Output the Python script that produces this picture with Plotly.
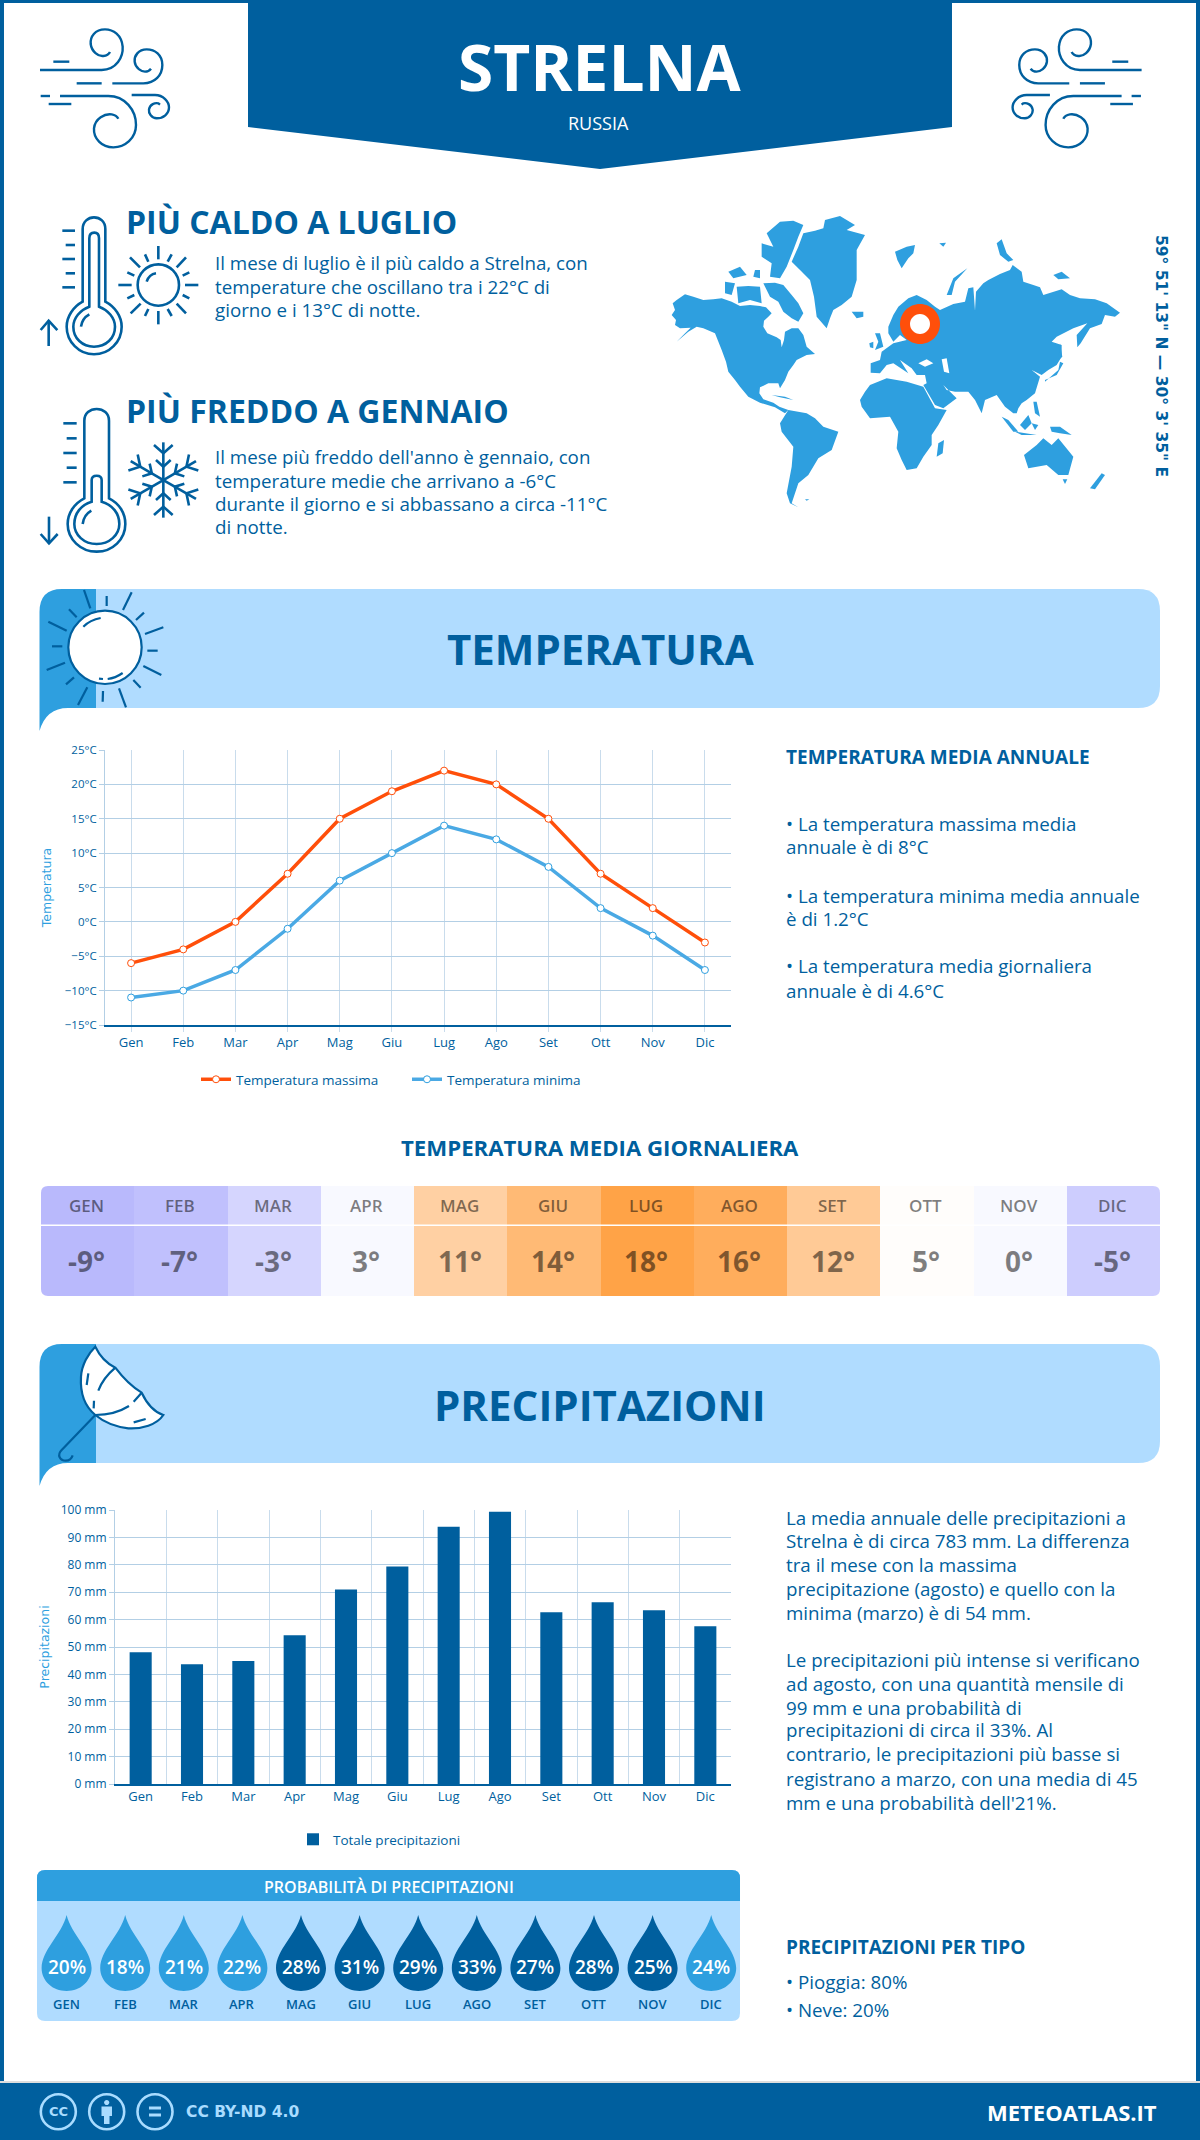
import re
import numpy as np
import plotly.graph_objects as go

W, H = 1200, 2140
DARK, MID, LIGHT = "#005f9e", "#2e9fdf", "#b0dcff"
ORANGE, GRID, GRIDV = "#ff4f0a", "#b3cfe5", "#c9dcec"
FONT = "Open Sans"

months = ["Gen", "Feb", "Mar", "Apr", "Mag", "Giu", "Lug", "Ago", "Set", "Ott", "Nov", "Dic"]
months_upper = ["GEN", "FEB", "MAR", "APR", "MAG", "GIU", "LUG", "AGO", "SET", "OTT", "NOV", "DIC"]
temp_max = [-6, -4, 0, 7, 15, 19, 22, 20, 15, 7, 2, -3]
temp_min = [-11, -10, -7, -1, 6, 10, 14, 12, 8, 2, -2, -7]
temp_mean = [-9, -7, -3, 3, 11, 14, 18, 16, 12, 5, 0, -5]
mean_colors = ["#b9b9fc", "#c0c0fd", "#d5d5fe", "#f8f9ff", "#ffd0a3", "#ffba75",
               "#ffa347", "#ffad5c", "#ffca96", "#fffdfb", "#f8f9ff", "#cdcdfe"]
precip = [48.1, 43.7, 44.9, 54.3, 71.0, 79.4, 93.9, 99.4, 62.7, 66.3, 63.4, 57.6]
rain_prob = [20, 18, 21, 22, 28, 31, 29, 33, 27, 28, 25, 24]

hot_lines = ["Il mese di luglio è il più caldo a Strelna, con",
             "temperature che oscillano tra i 22°C di",
             "giorno e i 13°C di notte."]
cold_lines = ["Il mese più freddo dell'anno è gennaio, con",
              "temperature medie che arrivano a -6°C",
              "durante il giorno e si abbassano a circa -11°C",
              "di notte."]
annual_lines = ["• La temperatura massima media", "annuale è di 8°C",
                "• La temperatura minima media annuale", "è di 1.2°C",
                "• La temperatura media giornaliera", "annuale è di 4.6°C"]
precip_lines = ["La media annuale delle precipitazioni a",
                "Strelna è di circa 783 mm. La differenza",
                "tra il mese con la massima",
                "precipitazione (agosto) e quello con la",
                "minima (marzo) è di 54 mm.",
                "Le precipitazioni più intense si verificano",
                "ad agosto, con una quantità mensile di",
                "99 mm e una probabilità di",
                "precipitazioni di circa il 33%. Al",
                "contrario, le precipitazioni più basse si",
                "registrano a marzo, con una media di 45",
                "mm e una probabilità dell'21%."]

shapes, notes = [], []
BODY = 18.75


def fx(x):
    return x / W


def fy(y):
    return 1 - y / H


def to_paper(path):
    return re.sub(r"(-?\d+\.?\d*),(-?\d+\.?\d*)",
                  lambda m: f"{fx(float(m[1])):.5f},{fy(float(m[2])):.5f}", path)


def add_path(path, fill=None, line=None, width=0):
    shapes.append(dict(type="path", xref="paper", yref="paper", path=to_paper(path),
                       fillcolor=fill or "rgba(0,0,0,0)",
                       line=dict(color=line or "rgba(0,0,0,0)", width=width), layer="above"))


def xform(path, ox, oy, s=1 / 3, mirror=None):
    def rep(m):
        x, y = ox + float(m[1]) * s, oy + float(m[2]) * s
        if mirror is not None:
            x = mirror - x
        return f"{x:.2f},{y:.2f}"
    return re.sub(r"(-?\d+\.?\d*),(-?\d+\.?\d*)", rep, path)


def rect(x0, y0, x1, y1, fill):
    add_path(f"M{x0},{y0} L{x1},{y0} L{x1},{y1} L{x0},{y1} Z", fill=fill)


def rrect(x0, y0, x1, y1, r, fill):
    add_path(f"M{x0+r},{y0} L{x1-r},{y0} Q{x1},{y0} {x1},{y0+r} L{x1},{y1-r} Q{x1},{y1} {x1-r},{y1} "
             f"L{x0+r},{y1} Q{x0},{y1} {x0},{y1-r} L{x0},{y0+r} Q{x0},{y0} {x0+r},{y0} Z", fill=fill)


def circle_path(cx, cy, r):
    k = 0.5523 * r
    return (f"M{cx+r},{cy} C{cx+r},{cy+k} {cx+k},{cy+r} {cx},{cy+r} C{cx-k},{cy+r} {cx-r},{cy+k} {cx-r},{cy} "
            f"C{cx-r},{cy-k} {cx-k},{cy-r} {cx},{cy-r} C{cx+k},{cy-r} {cx+r},{cy-k} {cx+r},{cy} Z")


def text(x, y, s, size, color=DARK, weight=400, anchor="left", family=FONT, angle=0):
    notes.append(dict(xref="paper", yref="paper", x=fx(x), y=fy(y), text=s, showarrow=False,
                      xanchor=anchor, yanchor="middle", textangle=angle, borderpad=0,
                      font=dict(family=family, size=size, color=color, weight=weight)))


# ---------- page frame and header
rect(0, 0, 4, H, DARK)
rect(W - 4, 0, W, H, DARK)
rect(0, 0, W, 3, DARK)
add_path("M248,0 L952,0 L952,127 L600,169 L248,127 Z", fill=DARK)
rect(0, 2081, W, 2083, "#dddddd")
rect(0, 2083, W, H, DARK)
text(600, 66, "STRELNA", 64, "#ffffff", 700, "center")
text(598, 123, "RUSSIA", 18, "#ffffff", 400, "center")

# ---------- wind icons
wind = ["M30,150 L215,150 C260,150 280,110 278,80 C275,45 250,28 225,28 C195,28 180,50 182,72 C185,95 205,110 220,108 C230,107 238,100 240,96",
        "M70,125 L118,125", "M140,190 L215,190",
        "M247,190 L340,190 C375,190 397,165 397,135 C397,105 375,88 350,88 C325,88 312,108 314,125 C316,145 335,155 345,155 C352,155 360,150 363,146",
        "M32,228 L60,228",
        "M90,228 L235,228 C285,228 318,270 318,315 C318,355 285,382 250,382 C215,382 190,355 192,325 C195,295 225,280 245,283 C255,285 262,290 265,296",
        "M56,252 L124,252",
        "M305,225 L375,225 C400,225 417,245 417,262 C417,282 400,295 380,295 C365,295 355,280 357,268 C360,252 375,248 385,250 L390,254"]
for p in wind:
    add_path(xform(p, 30, 20), line=DARK, width=2.4)
    add_path(xform(p, 30, 20, mirror=1181.6), line=DARK, width=2.4)

# ---------- thermometer / sun
therm1 = ["M158,290 L158,72 C158,50 175,37 192,37 C210,37 226,50 226,72 L226,290 C255,305 275,335 275,365 C275,410 238,448 192,448 C147,448 110,410 110,365 C110,335 130,305 158,290 Z",
          "M178,305 L178,100 C178,88 185,83 193,83 C200,83 207,88 207,100 L207,305 C235,315 255,340 255,365 C255,400 228,425 192,425 C157,425 130,400 130,365 C130,340 150,315 178,305 Z",
          "M153,365 C155,350 165,335 178,328",
          "M97,77 L135,77", "M107,120 L135,120", "M97,162 L135,162", "M107,205 L135,205", "M97,247 L135,247",
          "M56,423 L56,347", "M32,375 L56,347 L82,375",
          circle_path(385, 240, 62), "M350,230 C355,215 365,207 378,205",
          "M385,123 L385,163", "M385,318 L385,358", "M265,240 L305,240", "M465,240 L505,240",
          "M300,157 L330,187", "M468,157 L440,187", "M302,325 L332,296", "M468,325 L440,296",
          "M345,148 L355,170", "M425,148 L413,170", "M292,202 L313,212", "M478,202 L458,212",
          "M292,280 L313,270", "M478,280 L458,270", "M345,333 L355,312", "M425,333 L413,312"]
for p in therm1:
    add_path(xform(p, 30, 205), line=DARK, width=2.6)

# ---------- thermometer / snowflake
therm2 = ["M163,295 L163,62 C163,40 180,27 200,27 C220,27 237,40 237,62 L237,295 C268,310 286,340 286,372 C286,418 248,455 200,455 C152,455 113,418 113,372 C113,340 133,310 163,295 Z",
          "M185,305 L185,240 C185,230 192,227 200,227 C208,227 215,230 215,240 L215,305 C248,315 268,340 268,372 C268,405 238,432 200,432 C162,432 133,405 133,372 C133,340 153,315 185,305 Z",
          "M158,372 C160,355 170,340 184,332",
          "M100,70 L140,70", "M110,115 L140,115", "M100,159 L140,159", "M110,203 L140,203", "M100,247 L140,247",
          "M57,350 L57,430", "M32,402 L57,430 L83,402"]
for p in therm2:
    add_path(xform(p, 30, 400), line=DARK, width=2.6)
for a in np.deg2rad([0, 60, 120, 180, 240, 300]):
    def rot(dx, dy):
        return 400 + dx * np.cos(a) - dy * np.sin(a), 240 + dx * np.sin(a) + dy * np.cos(a)
    for seg in [((0, 0), (0, -113)), ((-28, -105), (0, -80), (28, -105)), ((-22, -60), (0, -40), (22, -60))]:
        pts = [rot(*q) for q in seg]
        add_path(xform("M" + " L".join(f"{u:.1f},{v:.1f}" for u, v in pts), 30, 400), line=DARK, width=2.6)

# ---------- world map (outlines)
land = [
    "38,310 50,300 75,283 100,290 130,300 160,298 185,295 215,305 240,318 270,315 300,318 318,322 335,340 325,350 312,362 310,380 322,400 350,412 362,420 365,442 372,420 375,395 395,385 415,385 430,405 440,440 465,462 440,465 410,480 400,495 385,515 375,540 360,565 355,550 325,550 300,562 298,580 310,598 340,608 358,620 385,630 375,640 345,622 300,608 265,590 240,560 225,540 205,515 198,485 185,450 165,400 130,385 110,380 85,395 50,425 70,405 92,383 60,385 45,375 48,360 35,345 45,330",
    "195,245 225,250 215,285 195,280", "230,260 265,258 300,260 305,310 270,300 235,310", "205,215 240,200 260,225 220,235",
    "285,210 300,210 300,235 280,230", "310,250 345,248 370,255 395,285 415,310 430,340 415,365 395,355 370,335 355,305 330,290",
    "320,100 360,65 400,62 430,75 415,110 400,150 380,200 360,235 330,230 335,190 305,170 305,130 340,140",
    "395,185 415,140 430,100 465,92 490,85 495,60 540,48 585,75 560,90 615,105 590,150 590,200 590,240 575,290 545,315 520,330 510,355 500,385 470,350 462,290 450,240 420,210",
    "575,335 610,335 610,350 590,355", "705,155 740,140 765,135 760,160 745,175 725,205 712,180",
    "838,130 858,128 850,140", "860,285 880,235 922,205 885,245 875,285",
    "1010,130 1025,118 1040,160 1060,180 1045,185 1020,165", "1180,225 1205,215 1230,235 1195,238",
    "685,380 700,345 715,320 745,295 770,285 800,300 825,320 840,330 880,312 915,305 925,265 940,262 945,332 948,275 970,250 985,240 1020,222 1050,210 1058,195 1085,215 1090,245 1120,255 1140,262 1150,285 1205,268 1230,285 1260,295 1305,298 1340,310 1380,338 1365,350 1335,345 1325,372 1290,385 1262,430 1252,442 1250,405 1282,370 1240,385 1190,410 1175,425 1205,435 1205,470 1190,495 1165,510 1145,525 1115,510 1140,530 1125,580 1100,600 1085,610 1075,625 1070,640 1060,640 1035,620 1010,585 975,600 965,640 945,600 925,575 885,575 860,570 850,555 880,585 890,595 850,625 825,615 790,555 800,550 795,525 770,525 755,505 720,480 745,520 700,490 680,495 660,520 632,518 632,490 660,480 665,455 700,430 740,420 720,405 700,425 685,400",
    "645,400 660,400 670,440 645,450 655,425", "628,430 640,425 640,445 630,442",
    "600,600 615,575 630,555 680,535 710,540 740,545 790,560 825,625 860,630 835,675 815,705 815,735 790,770 770,805 740,810 725,780 710,745 715,695 690,650 630,655 605,620",
    "835,730 852,720 848,760 830,770",
    "360,670 385,630 440,640 465,655 490,680 535,695 515,750 475,775 445,825 415,850 395,910 415,922 390,910 380,880 395,800 400,740 365,695",
    "335,585 375,590 400,600 360,592", "1155,545 1195,510 1200,485 1210,490 1190,525 1155,540",
    "1200,430 1207,470 1195,480 1198,450", "1120,605 1130,605 1140,650 1125,640", "1080,675 1105,645 1115,670 1095,690",
    "1025,650 1045,660 1075,695 1060,695", "1065,695 1130,705 1085,705", "1115,670 1135,675 1125,690",
    "1170,680 1200,680 1235,705 1200,700 1175,695",
    "1092,765 1130,735 1150,715 1175,735 1195,715 1240,770 1225,825 1195,825 1160,795 1105,805",
    "1208,838 1222,838 1215,852", "1290,865 1325,820 1335,825 1305,868", "435,898 448,898 440,902",
]
for poly in land:
    pts = poly.split()
    add_path(xform("M" + " L".join(pts) + " Z", 660, 200), fill=MID)
for poly in ["775,490 800,478 820,490 795,500", "845,478 860,475 868,520 852,515"]:
    pts = poly.split()
    add_path(xform("M" + " L".join(pts) + " Z", 660, 200), fill="#ffffff")
add_path(circle_path(920, 324, 20), fill=ORANGE)
add_path(circle_path(920, 324, 10), fill="#ffffff")
text(1161, 356, "59° 51' 13\" N — 30° 3' 35\" E", 15.5, DARK, 700, "center", "DejaVu Sans", 90)

# ---------- headline blocks
text(125, 221, "PIÙ CALDO A LUGLIO", 32, DARK, 700)
for y, s in zip([262, 286, 310], hot_lines):
    text(214, y, s, BODY)
text(125, 411, "PIÙ FREDDO A GENNAIO", 32, DARK, 700)
for y, s in zip([456, 480, 504, 527], cold_lines):
    text(214, y, s, BODY)


# ---------- section banners
def banner(top):
    bot = top + 119
    rrect(60, top, 1160, bot, 22, LIGHT)
    add_path(f"M62,{top} L96,{top} L96,{bot} L68,{bot} Q46,{bot} 39.5,{bot+23} L39.5,{top+23} Q39.5,{top} 62,{top} Z", fill=MID)


banner(589)
text(600, 648, "TEMPERATURA", 42, DARK, 700, "center")
banner(1344)
text(600, 1404, "PRECIPITAZIONI", 42, DARK, 700, "center")

sun = ["M147,15 L166,70", "M215,33 L215,63", "M290,22 L264,75", "M327,83 L303,105", "M385,127 L330,147", "M337,197 L368,197",
       "M325,243 L379,270", "M295,285 L317,308", "M252,310 L273,367", "M204,318 L203,350", "M157,307 L129,360",
       "M117,277 L93,298", "M90,233 L35,255", "M82,184 L51,184", "M95,137 L40,110", "M125,97 L102,73"]
for p in sun:
    add_path(xform(p, 35, 585), line=DARK, width=2.2)
add_path(xform(circle_path(210, 187, 110), 35, 585), fill="#ffffff", line=DARK, width=2.2)
for p in ["M145,125 C160,110 180,102 197,99", "M218,282 C235,280 250,273 263,264", "M192,281 L204,282"]:
    add_path(xform(p, 35, 585), line=DARK, width=2.2)

add_path(xform("M181,20 C195,50 215,70 241,83 C265,115 290,140 320,158 C335,190 355,215 385,225 C365,255 320,267 280,265 C240,260 205,245 181,225 C150,200 135,160 138,110 C140,75 160,40 181,20 Z", 35, 1340),
         fill="#ffffff", line=DARK, width=2.2)
for p in ["M241,83 C215,105 200,125 190,152", "M181,225 C220,225 255,215 282,198", "M296,185 L320,158", "M160,100 L155,135",
          "M177,182 L176,205", "M296,247 L332,237", "M181,225 L80,330 C65,345 75,362 92,362 C103,362 110,355 113,346"]:
    add_path(xform(p, 35, 1340), line=DARK, width=2.2)

# ---------- side notes
text(785, 757, "TEMPERATURA MEDIA ANNUALE", 19, DARK, 700)
for y, s in zip([824, 847, 895, 918, 966, 990], annual_lines):
    text(785, y, s, BODY)
text(600, 1147, "TEMPERATURA MEDIA GIORNALIERA", 22.2, DARK, 700, "center")
for y, s in zip([1517, 1540, 1564, 1588, 1612, 1659, 1683, 1707, 1729, 1754, 1778, 1802], precip_lines):
    text(785, y, s, BODY)
text(785, 1947, "PRECIPITAZIONI PER TIPO", 19, DARK, 700)
text(785, 1981, "• Pioggia: 80%", BODY)
text(785, 2009, "• Neve: 20%", BODY)

# ---------- mean temperature table labels and masks
CELL_X0, CELL_X1, CELL_Y0, CELL_Y1 = 41, 1160, 1186, 1296
cell_w = (CELL_X1 - CELL_X0) / len(temp_mean)
for i, (m, v) in enumerate(zip(months_upper, temp_mean)):
    cx = CELL_X0 + cell_w * (i + 0.5) - 1
    text(cx, 1205, m, 17, "rgba(0,0,0,0.5)", 600, "center")
    text(cx, 1261, f"{v}°", 28, "rgba(0,0,0,0.5)", 700, "center")
rect(CELL_X0, 1224.5, CELL_X1, 1226, "#ffffff")
r = 7
for (x, y, sx, sy) in [(CELL_X0, CELL_Y0, 1, 1), (CELL_X1, CELL_Y0, -1, 1), (CELL_X0, CELL_Y1, 1, -1), (CELL_X1, CELL_Y1, -1, -1)]:
    add_path(f"M{x},{y} L{x+sx*r},{y} Q{x},{y} {x},{y+sy*r} Z", fill="#ffffff")

# ---------- rain probability panel
rrect(37, 1870, 740, 2021, 8, LIGHT)
add_path("M45,1870 L732,1870 Q740,1870 740,1878 L740,1901 L37,1901 L37,1878 Q37,1870 45,1870 Z", fill=MID)
text(389, 1887, "PROBABILITÀ DI PRECIPITAZIONI", 16, "#ffffff", 600, "center")
drop = "M0,0 C5,20 25,35 25,53 C25,66 14,76 0,76 C-14,76 -25,66 -25,53 C-25,35 -5,20 0,0 Z"
for i, (m, p) in enumerate(zip(months_upper, rain_prob)):
    cx = 66.6 + 58.6 * i
    add_path(xform(drop, cx, 1915, s=1), fill=DARK if p >= 25 else MID)
    text(cx, 1967, f"{p}%", 19, "#ffffff", 600, "center")
    text(cx, 2004, m, 13, DARK, 600, "center")

# ---------- footer
CCL = "#a9dcff"
for cx in [58.3, 106.7, 155]:
    add_path(circle_path(cx, 2111.7, 17.5), line=CCL, width=2.6)
text(58.3, 2111.7, "CC", 13, CCL, 700, "center", "DejaVu Sans")
add_path(circle_path(106.7, 2102.5, 2.6), fill=CCL)
add_path("M101.5,2106.5 L112,2106.5 L112,2116 L109.5,2116 L109.5,2124 L104,2124 L104,2116 L101.5,2116 Z", fill=CCL)
rect(149, 2106.5, 161, 2109.5, CCL)
rect(149, 2113.5, 161, 2116.5, CCL)
text(185, 2112, "CC BY-ND 4.0", 15.5, CCL, 700, "left", "DejaVu Sans")
text(1158, 2112, "METEOATLAS.IT", 22, "#ffffff", 700, "right")

# ---------- charts
fig = go.Figure()
fig.add_trace(go.Scatter(x=months, y=temp_max, name="Temperatura massima", mode="lines+markers",
                         line=dict(color=ORANGE, width=3.5),
                         marker=dict(size=7, color="#ffffff", line=dict(color=ORANGE, width=1)), xaxis="x", yaxis="y"))
fig.add_trace(go.Scatter(x=months, y=temp_min, name="Temperatura minima", mode="lines+markers",
                         line=dict(color="#4aa9e4", width=3.5),
                         marker=dict(size=7, color="#ffffff", line=dict(color="#2e9fdf", width=1)), xaxis="x", yaxis="y"))
fig.add_trace(go.Bar(x=months, y=precip, name="Totale precipitazioni", marker=dict(color=DARK, line=dict(width=0)),
                     xaxis="x2", yaxis="y2", legend="legend2"))
order = np.argsort(temp_mean)
lo, hi = min(temp_mean), max(temp_mean)
scale = [[(temp_mean[i] - lo) / (hi - lo), mean_colors[i]] for i in order]
fig.add_trace(go.Heatmap(z=[temp_mean], x=months, y=["media"], colorscale=scale, zmin=lo, zmax=hi, showscale=False,
                         xaxis="x3", yaxis="y3", hoverinfo="skip"))

axis_title = dict(family="DejaVu Sans", size=12.5, color=MID)
xtick = dict(family=FONT, size=13, color=DARK)
legend_font = dict(family=FONT, size=13.5, color=DARK)
fig.update_layout(
    width=W, height=H, margin=dict(l=0, r=0, t=0, b=0, autoexpand=False), paper_bgcolor="#ffffff", plot_bgcolor="#ffffff",
    font=dict(family=FONT, color=DARK), shapes=shapes, annotations=notes, bargap=0.57, hovermode="closest",
    xaxis=dict(domain=[105 / W, 731 / W], anchor="y", range=[-0.5, 11.5], type="category", categoryorder="array",
               categoryarray=months, showgrid=True, gridcolor=GRIDV, gridwidth=1, showline=True, linecolor=DARK,
               linewidth=1.5, ticks="outside", ticklen=5, tickcolor=GRIDV, tickfont=xtick,
               zeroline=False, fixedrange=True),
    yaxis=dict(domain=[1 - 1025 / H, 1 - 750 / H], anchor="x", range=[-15, 25], dtick=5, ticksuffix="°C",
               showgrid=True, gridcolor=GRID, gridwidth=1.2, zeroline=False, showline=True, linecolor=GRID, linewidth=1,
               ticks="outside", ticklen=5, tickcolor=GRID, tickfont=dict(family=FONT, size=11.5, color=DARK), fixedrange=True,
               title=dict(text="Temperatura", font=axis_title, standoff=10)),
    xaxis2=dict(domain=[115 / W, 731 / W], anchor="y2", range=[-0.5, 11.5], type="category", categoryorder="array",
                categoryarray=months, tickson="boundaries", showgrid=True, gridcolor=GRIDV, gridwidth=1, showline=True,
                linecolor=DARK, linewidth=1.5, ticks="outside", ticklen=3, tickcolor="rgba(0,0,0,0)", tickfont=xtick,
                zeroline=False, fixedrange=True),
    yaxis2=dict(domain=[1 - 1784 / H, 1 - 1510 / H], anchor="x2", range=[0, 100], dtick=10, ticksuffix=" mm",
                showgrid=True, gridcolor=GRID, gridwidth=1.2, zeroline=False, showline=True, linecolor=GRID, linewidth=1,
                ticks="outside", ticklen=5, tickcolor=GRID, tickfont=dict(family=FONT, size=12, color=DARK), fixedrange=True,
                title=dict(text="Precipitazioni", font=axis_title, standoff=8)),
    xaxis3=dict(domain=[CELL_X0 / W, CELL_X1 / W], anchor="y3", visible=False, type="category", range=[-0.5, 11.5], fixedrange=True),
    yaxis3=dict(domain=[1 - CELL_Y1 / H, 1 - CELL_Y0 / H], anchor="x3", visible=False, type="category", range=[-0.5, 0.5], fixedrange=True),
    legend=dict(orientation="h", x=196 / W, y=1 - 1064 / H, xanchor="left", yanchor="top", font=legend_font,
                bgcolor="rgba(0,0,0,0)", itemwidth=30, entrywidth=166, entrywidthmode="pixels"),
    legend2=dict(orientation="h", x=293 / W, y=1 - 1824 / H, xanchor="left", yanchor="top", font=legend_font,
                 bgcolor="rgba(0,0,0,0)", itemwidth=30),
)
fig.write_html("out.html", config=dict(displayModeBar=False),
               post_script="document.body.style.margin='0';")
